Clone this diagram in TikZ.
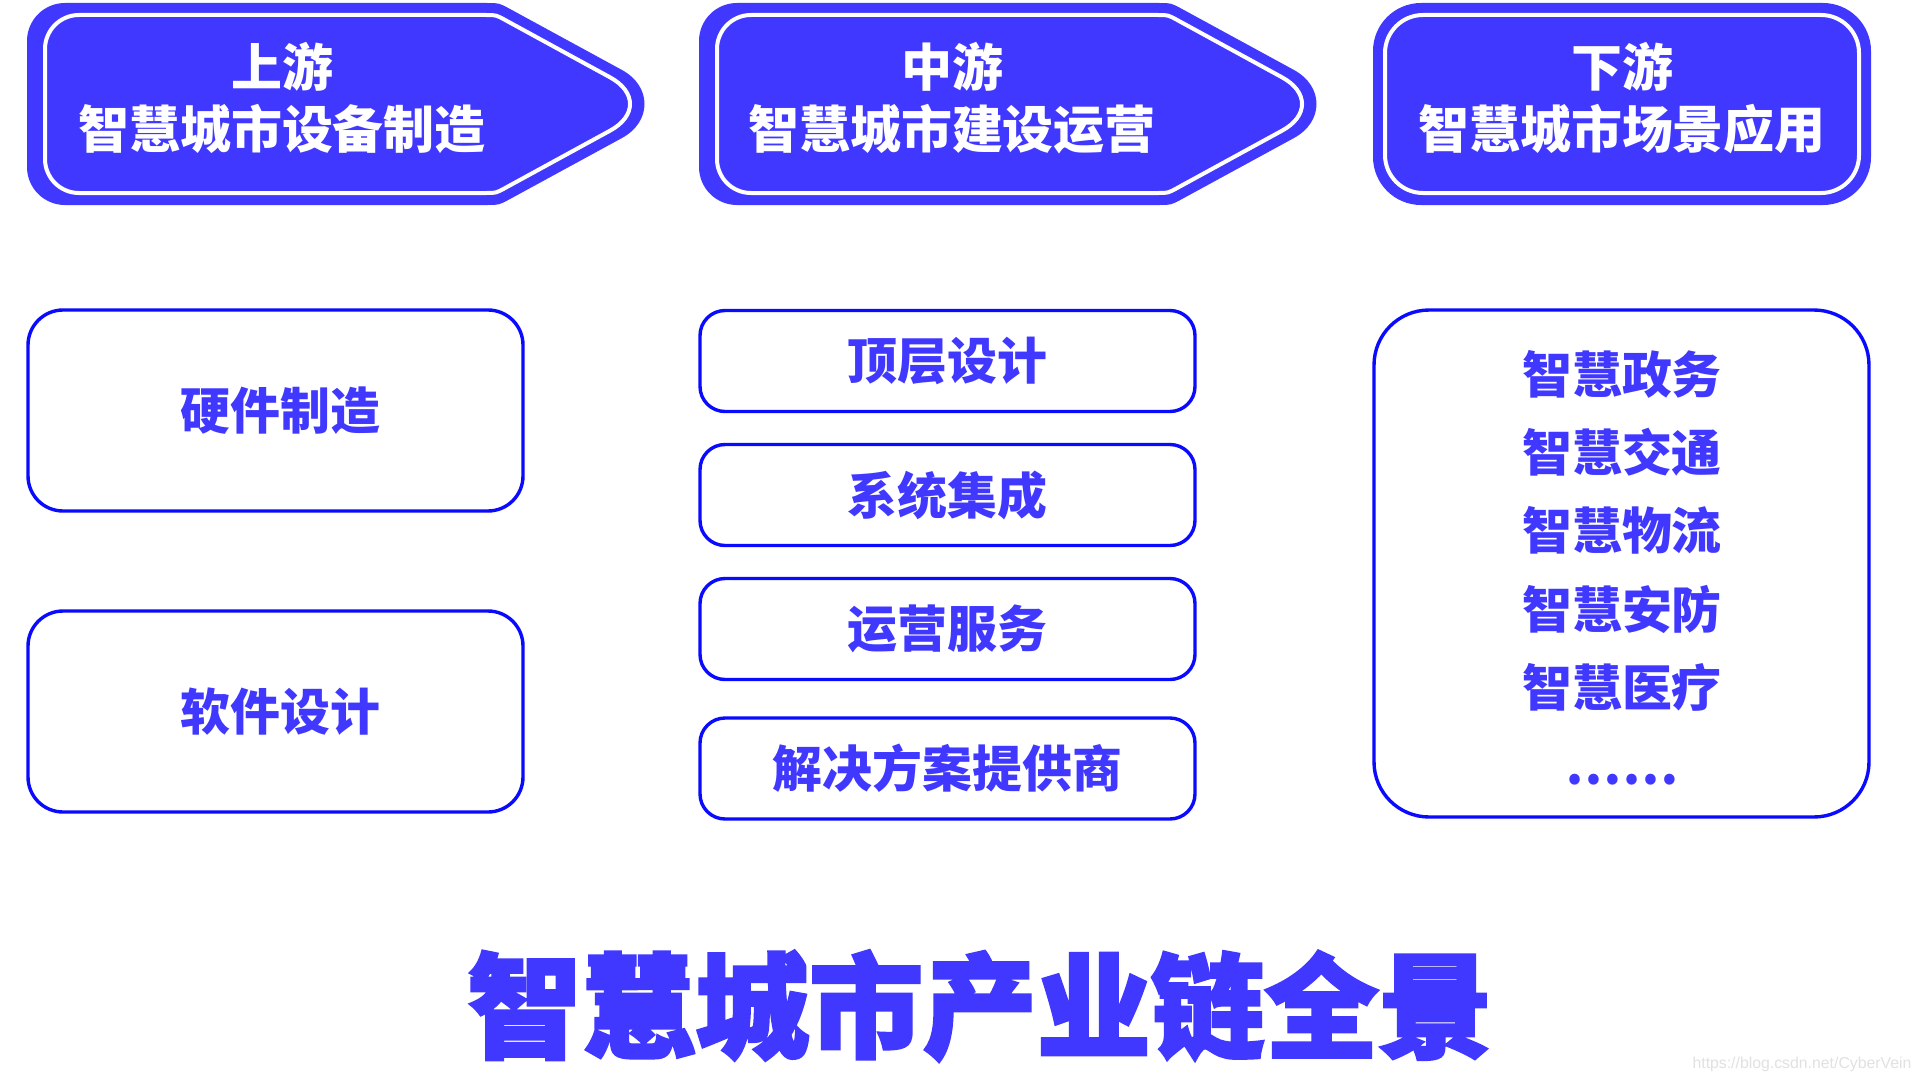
\documentclass[tikz,border=0pt]{standalone}
\usepackage{fontspec}
\newfontfamily\cjk{Noto Sans CJK SC}
\newfontfamily\cjkt{Noto Sans CJK SC}[BoldFeatures={FakeBold=2.5}]
\newfontfamily\wmfont{Liberation Sans}
\definecolor{hdr}{RGB}{64,56,255}
\definecolor{txt}{RGB}{64,56,255}
\definecolor{bdr}{RGB}{10,10,255}
\definecolor{wm}{RGB}{225,225,225}
\tikzset{
  hdrfill/.style={fill=hdr},
  hdrline/.style={draw=white, line width=0.2cm},
  hdrtext/.style={text=white, align=center, inner sep=0pt,
    font=\cjk\bfseries\fontsize{72.5pt}{88.2pt}\selectfont},
  boxbase/.style={draw=bdr, line width=0.17cm, fill=white, inner sep=0pt,
    text=txt, font=\cjk\bfseries\fontsize{71pt}{80pt}\selectfont},
  bigbox/.style={boxbase, minimum width=24.75cm, minimum height=10.05cm, rounded corners=1.75cm},
  midbox/.style={boxbase, minimum width=24.75cm, minimum height=5.05cm, rounded corners=1.25cm},
  tallbox/.style={boxbase, minimum width=24.75cm, minimum height=25.35cm, rounded corners=2.75cm},
  itemtext/.style={text=txt, inner sep=0pt, font=\cjk\bfseries\fontsize{71pt}{80pt}\selectfont},
  titletext/.style={text=txt, inner sep=0pt, font=\cjkt\bfseries\fontsize{162pt}{170pt}\selectfont},
}
\newcommand\hdrArrowShape{%
  \fill[hdrfill] (65,3) -- (487,3) .. controls (499,3) .. (509.5,8.7) -- (622,70)
    .. controls (652,86.4) and (652,121.6) .. (622,138) -- (509.5,199.3)
    .. controls (499,205) .. (487,205) -- (65,205)
    .. controls (44,205) and (27,188) .. (27,167) -- (27,41)
    .. controls (27,20) and (44,3) .. (65,3) -- cycle;
  \draw[hdrline] (79,15) -- (486,15) .. controls (496,15) .. (504.8,19.8) -- (610,77.3)
    .. controls (636.7,91.9) and (636.7,116.1) .. (610,130.7) -- (504.8,188.2)
    .. controls (496,193) .. (486,193) -- (79,193)
    .. controls (60.2,193) and (45,177.8) .. (45,159) -- (45,49)
    .. controls (45,30.2) and (60.2,15) .. (79,15) -- cycle;
}
\begin{document}
\begin{tikzpicture}[x=0.05cm, y=-0.05cm]
\useasboundingbox (0,0) rectangle (1920,1080);
\fill[white] (0,0) rectangle (1920,1080);

% headers
\hdrArrowShape
\begin{scope}[shift={(672,0)}]
  \hdrArrowShape
\end{scope}
\fill[hdrfill, rounded corners=2.4cm] (1373,3) rectangle (1871,205);
\draw[hdrline, rounded corners=1.9cm] (1385,15) rectangle (1859,193);

\node[hdrtext] (up) at (282,98) {上游\\智慧城市设备制造};
\node[hdrtext] (mid) at (952,98) {中游\\智慧城市建设运营};
\node[hdrtext] (down) at (1622,98) {下游\\智慧城市场景应用};

% upstream boxes
\node[bigbox] (hw) at (275.5,410.5) {\hspace*{0.5cm}硬件制造};
\node[bigbox] (sw) at (275.5,711.5) {\hspace*{0.5cm}软件设计};

% midstream boxes
\node[midbox] (m1) at (947.5,361) {顶层设计};
\node[midbox] (m2) at (947.5,495) {系统集成};
\node[midbox] (m3) at (947.5,629) {运营服务};
\node[midbox] (m4) at (947.5,768.5) {解决方案提供商};

% downstream box
\node[tallbox] (ds) at (1621.5,563.5) {};
\node[itemtext] (d1) at (1622,374) {智慧政务};
\node[itemtext] (d2) at (1622,452) {智慧交通};
\node[itemtext] (d3) at (1622,530) {智慧物流};
\node[itemtext] (d4) at (1622,609) {智慧安防};
\node[itemtext] (d5) at (1622,687) {智慧医疗};
\node[itemtext] (d6) at (1622,780) {……};

% title
\node[titletext] (title) at (980,1006) {智慧城市产业链全景};

% watermark
\node[text=wm, inner sep=0pt, font=\wmfont\fontsize{22.5pt}{24pt}\selectfont] (wmk) at (1802,1064) {https://blog.csdn.net/CyberVein};
\end{tikzpicture}
\end{document}
